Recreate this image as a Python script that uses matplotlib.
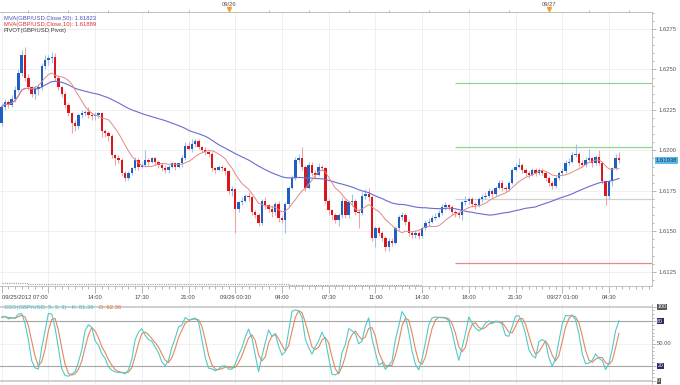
import numpy as np
import pandas as pd
import matplotlib
matplotlib.use("Agg")
import matplotlib.pyplot as plt
from matplotlib.ticker import MultipleLocator, FixedLocator
from matplotlib.transforms import blended_transform_factory

# 15 minute GBP/USD candles from 09/25/2012 07:00
first_open = 1.6217
closes = [
    1.6227, 1.6230, 1.6228, 1.6232, 1.6237, 1.6248, 1.6259, 1.6245, 1.6239, 1.6235,
    1.6238, 1.6239, 1.6252, 1.6256, 1.6257, 1.6258, 1.6245, 1.6239, 1.6235, 1.6228,
    1.6223, 1.6217, 1.6215, 1.6222, 1.6223, 1.6224, 1.6222, 1.6221, 1.6222, 1.6223,
    1.6212, 1.6211, 1.6209, 1.6197, 1.6195, 1.6194, 1.6186, 1.6183, 1.6186, 1.6189,
    1.6194, 1.6190, 1.6191, 1.6194, 1.6193, 1.6195, 1.6193, 1.6191, 1.6189, 1.6188,
    1.6190, 1.6192, 1.6190, 1.6192, 1.6195, 1.6203, 1.6201, 1.6204, 1.6206, 1.6202,
    1.6200, 1.6199, 1.6198, 1.6189, 1.6188, 1.6190, 1.6189, 1.6187, 1.6175, 1.6176,
    1.6164, 1.6168, 1.6169, 1.6172, 1.6171, 1.6162, 1.6160, 1.6155, 1.6169, 1.6166,
    1.6164, 1.6162, 1.6167, 1.6158, 1.6157, 1.6167, 1.6177, 1.6183, 1.6194, 1.6195,
    1.6190, 1.6177, 1.6191, 1.6186, 1.6185, 1.6190, 1.6189, 1.6169, 1.6163, 1.6160,
    1.6157, 1.6160, 1.6169, 1.6160, 1.6168, 1.6169, 1.6162, 1.6161, 1.6172, 1.6173,
    1.6171, 1.6146, 1.6152, 1.6149, 1.6146, 1.6140, 1.6144, 1.6143, 1.6152, 1.6159,
    1.6160, 1.6156, 1.6149, 1.6148, 1.6149, 1.6147, 1.6152, 1.6155, 1.6156, 1.6158,
    1.6159, 1.6161, 1.6165, 1.6166, 1.6165, 1.6162, 1.6161, 1.6160, 1.6168, 1.6169,
    1.6170, 1.6167, 1.6166, 1.6170, 1.6171, 1.6172, 1.6175, 1.6173, 1.6177, 1.6180,
    1.6177, 1.6176, 1.6180, 1.6188, 1.6190, 1.6191, 1.6188, 1.6186, 1.6185, 1.6188,
    1.6186, 1.6188, 1.6186, 1.6183, 1.6180, 1.6178, 1.6183, 1.6186, 1.6187, 1.6192,
    1.6193, 1.6197, 1.6198, 1.6192, 1.6191, 1.6194, 1.6195, 1.6192, 1.6196, 1.6192,
    1.6181, 1.6172, 1.6181, 1.6189, 1.6195, 1.6194,
]
highs = [
    1.6229, 1.6232, 1.6231, 1.6234, 1.6240, 1.6250, 1.6262, 1.6264, 1.6247, 1.6240,
    1.6240, 1.6241, 1.6254, 1.6259, 1.6259, 1.6261, 1.6260, 1.6246, 1.6240, 1.6236,
    1.6229, 1.6224, 1.6219, 1.6223, 1.6225, 1.6225, 1.6227, 1.6223, 1.6224, 1.6224,
    1.6224, 1.6213, 1.6212, 1.6210, 1.6198, 1.6197, 1.6195, 1.6187, 1.6187, 1.6190,
    1.6196, 1.6195, 1.6193, 1.6200, 1.6195, 1.6196, 1.6196, 1.6194, 1.6192, 1.6191,
    1.6191, 1.6193, 1.6193, 1.6193, 1.6197, 1.6205, 1.6205, 1.6207, 1.6207, 1.6207,
    1.6203, 1.6202, 1.6200, 1.6199, 1.6190, 1.6191, 1.6191, 1.6190, 1.6188, 1.6178,
    1.6177, 1.6169, 1.6171, 1.6173, 1.6174, 1.6172, 1.6163, 1.6161, 1.6170, 1.6171,
    1.6167, 1.6166, 1.6168, 1.6169, 1.6160, 1.6168, 1.6178, 1.6185, 1.6196, 1.6198,
    1.6202, 1.6191, 1.6193, 1.6193, 1.6188, 1.6192, 1.6191, 1.6190, 1.6170, 1.6164,
    1.6161, 1.6161, 1.6171, 1.6170, 1.6169, 1.6173, 1.6170, 1.6163, 1.6174, 1.6176,
    1.6177, 1.6172, 1.6153, 1.6153, 1.6150, 1.6147, 1.6146, 1.6146, 1.6153, 1.6160,
    1.6162, 1.6161, 1.6157, 1.6150, 1.6151, 1.6150, 1.6153, 1.6157, 1.6158, 1.6160,
    1.6161, 1.6163, 1.6167, 1.6168, 1.6167, 1.6166, 1.6163, 1.6162, 1.6169, 1.6172,
    1.6171, 1.6171, 1.6168, 1.6171, 1.6173, 1.6174, 1.6177, 1.6176, 1.6178, 1.6182,
    1.6182, 1.6178, 1.6181, 1.6189, 1.6192, 1.6195, 1.6192, 1.6189, 1.6187, 1.6189,
    1.6189, 1.6189, 1.6189, 1.6187, 1.6184, 1.6181, 1.6184, 1.6187, 1.6189, 1.6194,
    1.6195, 1.6199, 1.6204, 1.6199, 1.6194, 1.6196, 1.6201, 1.6196, 1.6197, 1.6200,
    1.6193, 1.6182, 1.6182, 1.6190, 1.6198, 1.6199,
]
lows = [
    1.6215, 1.6225, 1.6226, 1.6227, 1.6230, 1.6236, 1.6246, 1.6243, 1.6237, 1.6233,
    1.6232, 1.6234, 1.6237, 1.6250, 1.6253, 1.6254, 1.6243, 1.6237, 1.6233, 1.6226,
    1.6221, 1.6211, 1.6212, 1.6213, 1.6220, 1.6221, 1.6220, 1.6219, 1.6219, 1.6220,
    1.6208, 1.6208, 1.6206, 1.6195, 1.6191, 1.6192, 1.6184, 1.6181, 1.6182, 1.6185,
    1.6188, 1.6188, 1.6189, 1.6190, 1.6191, 1.6192, 1.6191, 1.6189, 1.6187, 1.6186,
    1.6186, 1.6189, 1.6188, 1.6189, 1.6190, 1.6194, 1.6200, 1.6199, 1.6202, 1.6201,
    1.6199, 1.6197, 1.6196, 1.6187, 1.6186, 1.6187, 1.6187, 1.6185, 1.6173, 1.6172,
    1.6149, 1.6162, 1.6166, 1.6168, 1.6169, 1.6160, 1.6158, 1.6153, 1.6154, 1.6164,
    1.6162, 1.6159, 1.6160, 1.6156, 1.6155, 1.6149, 1.6165, 1.6176, 1.6182, 1.6192,
    1.6188, 1.6175, 1.6176, 1.6184, 1.6183, 1.6184, 1.6187, 1.6167, 1.6160, 1.6157,
    1.6155, 1.6153, 1.6158, 1.6158, 1.6158, 1.6166, 1.6160, 1.6152, 1.6160, 1.6170,
    1.6169, 1.6144, 1.6140, 1.6147, 1.6144, 1.6138, 1.6138, 1.6141, 1.6142, 1.6151,
    1.6157, 1.6154, 1.6147, 1.6146, 1.6146, 1.6145, 1.6146, 1.6151, 1.6153, 1.6155,
    1.6157, 1.6158, 1.6160, 1.6163, 1.6163, 1.6160, 1.6159, 1.6158, 1.6157, 1.6166,
    1.6167, 1.6165, 1.6164, 1.6165, 1.6168, 1.6170, 1.6171, 1.6171, 1.6172, 1.6176,
    1.6175, 1.6174, 1.6175, 1.6179, 1.6187, 1.6189, 1.6186, 1.6184, 1.6183, 1.6184,
    1.6184, 1.6185, 1.6185, 1.6181, 1.6178, 1.6176, 1.6177, 1.6182, 1.6185, 1.6186,
    1.6191, 1.6192, 1.6196, 1.6190, 1.6190, 1.6190, 1.6193, 1.6190, 1.6191, 1.6191,
    1.6179, 1.6166, 1.6170, 1.6178, 1.6188, 1.6192,
]

tick_labels = ["09/25/2012 07:00", "", "14:00", "17:30", "21:00", "09/26 00:30", "04:00",
               "07:30", "11:00", "14:30", "18:00", "21:30", "09/27 01:00", "04:30"]
day_labels = ["09/26", "09/27"]
day_bars = [68, 164]

# daily pivot levels (from 09/26 17:00)
pivot_start = 136
pivot_levels = [1.62414, 1.62020, 1.61699, 1.61306]
pivot_colors = ["#8fd48f", "#8fd48f", "#d0d0d0", "#e58a8a"]

# previous pivot, drawn dotted along the bottom
old_pivot_bars = [0, 8, 28, 47, 67, 86, 106, 126]
old_pivot_vals = [1.61180, 1.61177, 1.61176, 1.61174, 1.61172, 1.61170, 1.61168, 1.61168]

last_price = 1.61938
ma50_text = "MVA(GBP/USD,Close,50): 1.61823"
ma10_text = "MVA(GBP/USD,Close,10): 1.61889"
pivot_text = "PIVOT(GBP/USD,Pivot)"
sso_k_text = "SSO(GBP/USD, 5, 3, 3) - K: 81.36"
sso_d_text = "D: 62.36"

plt.rcParams['font.family'] = ['Liberation Sans', 'DejaVu Sans']
FS = 4.2

x = np.arange(len(closes))
c = np.array(closes)
o = np.array([first_open] + closes[:-1])
h = np.array(highs)
l = np.array(lows)

s_close = pd.Series(c)
ma10 = s_close.rolling(10, min_periods=1).mean()
ma50 = s_close.rolling(50, min_periods=1).mean()

hh = pd.Series(h).rolling(5, min_periods=1).max()
ll = pd.Series(l).rolling(5, min_periods=1).min()
raw_k = (s_close - ll) / (hh - ll) * 100
stoch_k = raw_k.rolling(3, min_periods=1).mean()
stoch_d = stoch_k.rolling(3, min_periods=1).mean()

W, H = 680, 385
fig = plt.figure(figsize=(6.8, 3.85), dpi=100)
xmin, xmax = -0.5, 194.9

# ---------------- price panel
ax = fig.add_axes([0.0, 1 - 286 / H, 652 / W, (286 - 12) / H])
ax.set_xlim(xmin, xmax)
ax.set_ylim(1.61162, 1.62855)

grid_x = np.arange(0, len(closes), 14)
ax.set_xticks(grid_x)
ax.set_xticklabels(tick_labels)
for lab in ax.get_xticklabels()[:1]:
    lab.set_horizontalalignment("left")
ax.xaxis.set_minor_locator(MultipleLocator(2))
ax.tick_params(axis="x", which="major", length=5, width=0.5, color="#999999",
               labelsize=FS, labelcolor="#444444", pad=1.5)
ax.tick_params(axis="x", which="minor", length=2.5, width=0.5, color="#999999")

ax.yaxis.tick_right()
ax.yaxis.set_major_locator(MultipleLocator(0.0025))
ax.yaxis.set_minor_locator(MultipleLocator(0.0005))
ax.yaxis.set_major_formatter(plt.FormatStrFormatter("%.4f"))
ax.tick_params(axis="y", which="major", length=3, width=0.5, color="#999999",
               labelsize=FS, labelcolor="#555555", pad=2)
ax.tick_params(axis="y", which="minor", length=1.5, width=0.5, color="#999999")

ax.grid(True, which="major", color="#ececec", lw=0.6)
ax.set_axisbelow(True)
ax.spines["left"].set_visible(False)
for side in ["top", "right", "bottom"]:
    ax.spines[side].set_color("#b5b5b5")
    ax.spines[side].set_linewidth(0.6)

up = c >= o
body_col = np.where(up, "#1f5fc4", "#d9161c")
wick_col = np.where(up, "#a3c0e8", "#eea5a7")
ax.vlines(x, l, h, colors=wick_col, lw=0.8, zorder=2)
body = c - o
small = np.abs(body) < 0.00004
body = np.where(small, 0.00004, body)
bottom = np.where(small, (c + o) / 2 - 0.00002, o)
ax.bar(x, body, bottom=bottom, width=0.72, color=body_col, lw=0, zorder=3)

ax.plot(x, ma50, color="#6b6bd0", lw=0.8, zorder=4)
ax.plot(x, ma10, color="#e08a8a", lw=0.7, zorder=4)

for lev, col in zip(pivot_levels, pivot_colors):
    ax.hlines(lev, pivot_start - 0.1, xmax, color=col, lw=0.9, zorder=1)
ax.step(old_pivot_bars, old_pivot_vals, where="post", color="#9a9aa8", lw=0.8,
        ls=(0, (1, 1)), zorder=1)

ax.text(1.006, last_price, "1.61938", transform=blended_transform_factory(ax.transAxes, ax.transData),
        fontsize=FS, color="#10305a", va="center", ha="left",
        bbox=dict(boxstyle="square,pad=0.15", fc="#5bbbe8", ec="none"))

ax.text(0.006, 0.985, ma50_text, transform=ax.transAxes, fontsize=FS, color="#4f4fbf", va="top")
ax.text(0.006, 0.963, ma10_text, transform=ax.transAxes, fontsize=FS, color="#d83232", va="top")
ax.text(0.006, 0.941, pivot_text, transform=ax.transAxes, fontsize=FS, color="#333333", va="top")

# top date axis
top = ax.secondary_xaxis("top")
top.set_xticks(day_bars)
top.set_xticklabels(day_labels)
top.xaxis.set_minor_locator(FixedLocator(np.arange(8, len(closes) + 10, 12)))
top.tick_params(axis="x", which="major", length=0, labelsize=FS, labelcolor="#555555", pad=3.5)
top.tick_params(axis="x", which="minor", length=1.5, width=0.5, color="#999999")
top.spines["top"].set_visible(False)
tr = blended_transform_factory(ax.transData, ax.transAxes)
ax.plot(day_bars, [1.012, 1.012], ls="none", marker="v", ms=3, color="#f0a030",
        transform=tr, clip_on=False)

# ---------------- stochastic panel
ax2 = fig.add_axes([0.0, 1 - 384 / H, 652 / W, (384 - 304) / H])
ax2.set_xlim(xmin, xmax)
ax2.set_ylim(-4.5, 103.6)
ax2.set_xticks(grid_x)
ax2.tick_params(axis="x", length=0, labelbottom=False)
ax2.grid(True, axis="x", color="#ececec", lw=0.6)
ax2.axhline(50, color="#efefef", lw=0.6)
ax2.axhline(100, color="#cfcfcf", lw=1.4)
ax2.axhline(0, color="#cfcfcf", lw=1.4)
ax2.axhline(80, color="#a5a5a5", lw=0.8)
ax2.axhline(20, color="#a5a5a5", lw=0.8)
ax2.spines["left"].set_visible(False)
ax2.spines["top"].set_visible(False)
ax2.spines["bottom"].set_visible(False)
ax2.spines["right"].set_color("#b5b5b5")
ax2.spines["right"].set_linewidth(0.6)
ax2.yaxis.tick_right()
ax2.set_yticks([0, 20, 50, 80, 100])
ax2.set_yticklabels([])
ax2.yaxis.set_minor_locator(MultipleLocator(5))
ax2.tick_params(axis="y", which="major", length=3, width=0.5, color="#999999")
ax2.tick_params(axis="y", which="minor", length=1.5, width=0.5, color="#999999")

ax2.plot(x, stoch_d, color="#e0895f", lw=0.8)
ax2.plot(x, stoch_k, color="#55c8c8", lw=0.8)

trr = blended_transform_factory(ax2.transAxes, ax2.transData)
for val, txt, fc, tc in [(100, "100", "#5a5a5a", "white"), (80, "80", "#2b2b6a", "white"),
                         (20, "20", "#2b2b6a", "white"), (0, "0", "#5a5a5a", "white")]:
    ax2.text(1.008, val, txt, transform=trr, fontsize=FS - 0.4, color=tc, va="center", ha="left",
             bbox=dict(boxstyle="square,pad=0.1", fc=fc, ec="none"))
ax2.text(1.008, 50, "50.00", transform=trr, fontsize=FS, color="#555555", va="center", ha="left")

ktxt = ax2.text(0.006, 0.99, sso_k_text, transform=ax2.transAxes, fontsize=FS,
                color="#45bcbc", va="top")
ax2.annotate(sso_d_text, xy=(1, 0), xycoords=ktxt, xytext=(4, 0), textcoords="offset points",
             fontsize=FS, color="#e0703a", va="bottom", ha="left")

fig.savefig("out.png", dpi=100)
